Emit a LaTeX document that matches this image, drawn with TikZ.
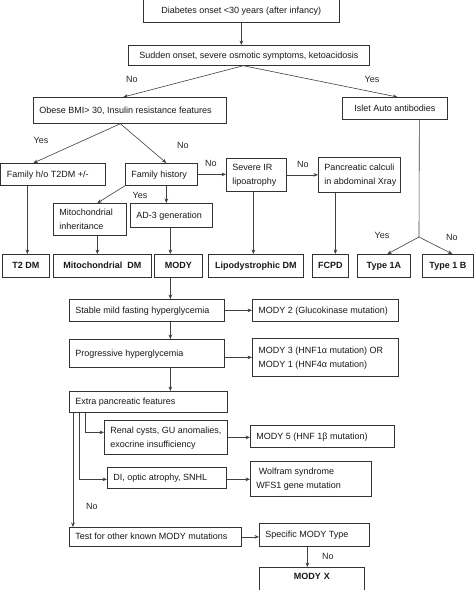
\documentclass[tikz,border=0pt]{standalone}
\usepackage{fontspec}
\setmainfont{Liberation Sans}
\usetikzlibrary{arrows.meta}
\tikzset{
 box/.style={draw=black!80, line width=0.7pt, inner xsep=6pt, inner ysep=0pt, font=\fontsize{9}{14}\selectfont, text=black!90},
 bbox/.style={box, font=\fontsize{9}{14}\selectfont\bfseries},
 conn/.style={draw=black!75, line width=0.6pt},
 arr/.style={conn, -{Stealth[length=4.5pt,width=3.6pt]}},
 lbl/.style={font=\fontsize{9}{11}\selectfont, text=black!85, inner sep=0pt},
}
% \bx{style}{align l/c}{x1}{y1}{x2}{y2}{name}{text}
\newcommand\bx[8]{%
 \pgfmathsetmacro\bxw{#5-#3}%
 \pgfmathsetmacro\bxh{#6-#4}%
 \pgfmathsetmacro\bxt{#5-#3-12}%
 \node[#1, anchor=north west, minimum width=\bxw pt, minimum height=\bxh pt] (#7) at (#3,#4)
  {\makebox[\bxt pt][#2]{\begin{tabular}{@{}#2@{}}#8\end{tabular}}};}
\begin{document}
\begin{tikzpicture}[x=1pt,y=-1pt]
\fill[white] (0,0) rectangle (474,590);
\useasboundingbox (0,0) rectangle (474,590);
% boxes
\bx{box}{c}{143}{-2}{339}{22}{onset}{Diabetes onset <30 years (after infancy)}
\bx{box}{c}{128}{45}{369}{65}{sudden}{Sudden onset, severe osmotic symptoms, ketoacidosis}
\bx{box}{l}{33}{97}{226}{123}{obese}{Obese BMI> 30, Insulin resistance features}
\bx{box}{c}{342}{97}{447}{119}{islet}{Islet Auto antibodies}
\bx{box}{l}{0.5}{163}{105}{185}{famho}{Family h/o T2DM +/-}
\bx{box}{l}{125}{163}{197}{185}{famhist}{Family history}
\bx{box}{l}{226}{158}{286}{191}{severe}{Severe IR\\lipoatrophy}
\bx{box}{l}{318}{157}{400}{192}{pancreatic}{Pancreatic calculi\\in abdominal Xray}
\bx{box}{l}{53}{203}{126}{235}{mitoinh}{Mitochondrial\\inheritance}
\bx{box}{l}{130}{203}{212}{227}{ad3}{AD-3 generation}
\bx{bbox}{c}{2}{254}{49}{277}{t2dm}{T2 DM}
\bx{bbox}{c}{53}{254}{151}{277}{mitodm}{Mitochondrial~~DM}
\bx{bbox}{c}{154}{254}{202}{277}{mody}{MODY}
\bx{bbox}{c}{208}{254}{303}{277}{lipodm}{Lipodystrophic DM}
\bx{bbox}{c}{312}{254}{348}{277}{fcpd}{FCPD}
\bx{bbox}{c}{357}{254}{410}{277}{type1a}{Type 1A}
\bx{bbox}{c}{422}{254}{473}{277}{type1b}{Type 1 B}
\bx{box}{l}{69}{299}{224}{321}{stable}{Stable mild fasting hyperglycemia}
\bx{box}{l}{252}{299}{398}{321}{mody2}{MODY 2 (Glucokinase mutation)}
\bx{box}{l}{69}{339}{224}{367}{progressive}{Progressive hyperglycemia}
\bx{box}{l}{252}{338}{398}{376}{mody3}{MODY 3 (HNF1α mutation) OR\\MODY 1 (HNF4α mutation)}
\bx{box}{l}{69}{391}{227}{412}{extra}{Extra pancreatic features}
\bx{box}{l}{104}{420}{227}{454}{renal}{Renal cysts, GU anomalies,\\exocrine insufficiency}
\bx{box}{l}{250}{425}{394}{447}{mody5}{MODY 5 (HNF 1β mutation)}
\bx{box}{l}{107}{467}{226}{488}{di}{DI, optic atrophy, SNHL}
\bx{box}{l}{250}{461}{371}{496}{wolfram}{~Wolfram syndrome\\WFS1 gene mutation}
\bx{box}{l}{69}{527}{241}{546}{test}{Test for other known MODY mutations}
\bx{box}{l}{259}{523}{369}{546}{specific}{Specific MODY Type}
\node[bbox, anchor=north west, minimum width=105pt, text width=93pt, align=center, inner ysep=6pt, text depth=22pt] (modyx) at (259,567) {MODY X};
% connectors
\draw[arr] (onset.south) -- (sudden.north -| onset.south);
\coordinate (s1) at ([xshift=-5.5]sudden.south);
\draw[arr] (s1) -- ([xshift=-6.5]obese.north);
\draw[arr] (s1) -- ([xshift=2.5]islet.north);
\node[lbl] at (132,79) {No};
\node[lbl] at (372,79) {Yes};
\coordinate (o1) at ([xshift=-9.5]obese.south);
\draw[arr] (o1) -- ([xshift=-19.75]famho.north);
\draw[arr] (o1) -- ([xshift=5]famhist.north);
\node[lbl] at (41,140) {Yes};
\node[lbl] at (183,145) {No};
\draw[arr] (famhist.east) -- (famhist.east -| severe.west);
\node[lbl] at (211,163) {No};
\draw[arr] (severe.east) -- (severe.east -| pancreatic.west);
\node[lbl] at (303,164) {No};
\draw[arr] ([xshift=5]famhist.south) -- ([xshift=5]famhist.south |- ad3.north);
\draw[arr] (famhist.south west) -- ([xshift=7.5]mitoinh.north);
\node[lbl] at (140,195) {Yes};
\draw[arr] ([xshift=-25.75]famho.south) -- ([xshift=-25.75]famho.south |- t2dm.north);
\draw[arr] ([xshift=7.5]mitoinh.south) -- ([xshift=7.5]mitoinh.south |- mitodm.north);
\draw[arr] ([xshift=-1]ad3.south) -- ([xshift=-1]ad3.south |- mody.north);
\draw[arr] ([xshift=-3]severe.south) -- ([xshift=-3]severe.south |- lipodm.north);
\draw[arr] ([xshift=-24]pancreatic.south) -- ([xshift=-24]pancreatic.south |- fcpd.north);
\coordinate (split) at (419,237);
\draw[conn] ([xshift=24.5]islet.south) -- (split);
\draw[arr] (split) -- ([xshift=3.5]type1a.north);
\draw[arr] (split) -- ([xshift=4.5]type1b.north);
\node[lbl] at (382,235) {Yes};
\node[lbl] at (452,237) {No};
\draw[arr] ([xshift=-8]mody.south) -- ([xshift=-8]mody.south |- stable.north);
\draw[arr] (stable.east) -- (stable.east -| mody2.west);
\draw[arr] ([xshift=23.5]stable.south) -- ([xshift=23.5]stable.south |- progressive.north);
\draw[arr] (progressive.east |- mody3.west) -- (mody3.west);
\draw[arr] ([xshift=23.5]progressive.south) -- ([xshift=23.5]progressive.south |- extra.north);
\draw[arr] ([xshift=16]extra.south west) |- ([yshift=5]renal.west);
\draw[arr] (renal.east) -- (renal.east -| mody5.west);
\draw[arr] ([xshift=10]extra.south west) |- ([yshift=-1.5]di.west);
\draw[arr] ([yshift=-1.5]di.east) -- ([yshift=-1.5]di.east -| wolfram.west);
\draw[arr] ([xshift=4]extra.south west) -- ([xshift=4]extra.south west |- test.north);
\node[lbl] at (92,506) {No};
\draw[arr] (test.east) -- (test.east -| specific.west);
\draw[arr] ([xshift=-7]specific.south) -- ([xshift=-7]specific.south |- modyx.north);
\node[lbl] at (328,556) {No};
\end{tikzpicture}
\end{document}
